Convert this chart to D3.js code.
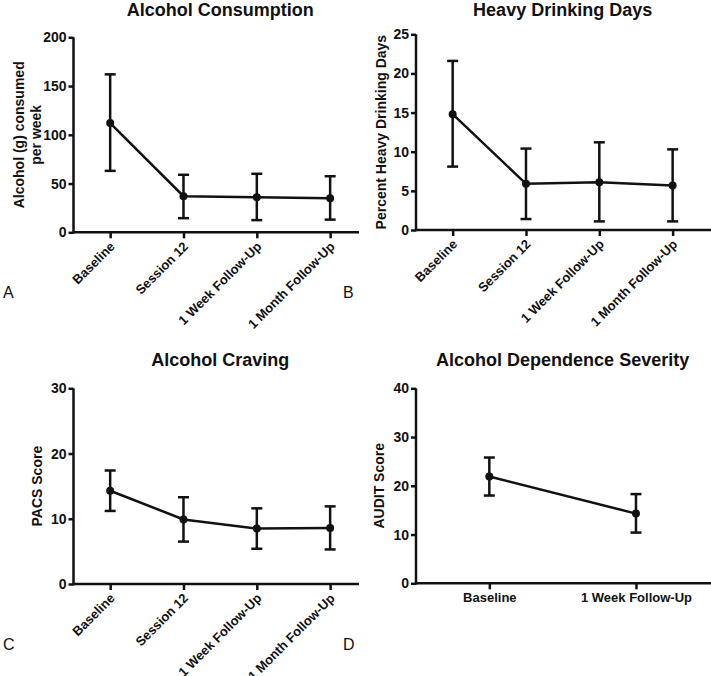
<!DOCTYPE html>
<html>
<head>
<meta charset="utf-8">
<script src="https://cdn.jsdelivr.net/npm/d3@7/dist/d3.min.js"></script>
<style>
  html, body { margin: 0; padding: 0; background: #fff; }
  svg { display: block; }
  text { font-family: "Liberation Sans", Arial, Helvetica, sans-serif; fill: #111; }
</style>
</head>
<body>
<svg id="chart" width="711" height="676"></svg>
<script>
// ---------------- data ----------------
const categoriesFull = ["Baseline", "Session 12", "1 Week Follow-Up", "1 Month Follow-Up"];
const categoriesAudit = ["Baseline", "1 Week Follow-Up"];

const alcoholMean = [112, 37, 36, 35];
const alcoholLow  = [63, 14.5, 12.5, 13];
const alcoholHigh = [162, 59, 60, 57.5];

const heavyMean = [14.8, 5.9, 6.1, 5.7];
const heavyLow  = [8.1, 1.4, 1.1, 1.1];
const heavyHigh = [21.6, 10.4, 11.2, 10.3];

const cravingMean = [14.3, 9.9, 8.5, 8.6];
const cravingLow  = [11.2, 6.5, 5.4, 5.3];
const cravingHigh = [17.4, 13.3, 11.6, 11.9];

const auditMean = [21.9, 14.3];
const auditLow  = [18.0, 10.4];
const auditHigh = [25.8, 18.3];

const alcoholTicks = [0, 50, 100, 150, 200];
const heavyTicks = [0, 5, 10, 15, 20, 25];
const cravingTicks = [0, 10, 20, 30];
const auditTicks = [0, 10, 20, 30, 40];

// ---------------- layout ----------------
const panels = [
  { letter: "A", title: "Alcohol Consumption", ylabel: ["Alcohol (g) consumed", "per week"],
    cats: categoriesFull, mean: alcoholMean, low: alcoholLow, high: alcoholHigh, ticks: alcoholTicks,
    ax: 73.5, axEnd: 359, y0: 232.3, yTop: 37.3, rotate: true,
    titleY: 16, ylabelX: [24, 41], letterX: 3, letterY: 298, letter2: null },
  { letter: "B", title: "Heavy Drinking Days", ylabel: ["Percent Heavy Drinking Days"],
    cats: categoriesFull, mean: heavyMean, low: heavyLow, high: heavyHigh, ticks: heavyTicks,
    ax: 416, axEnd: 711, y0: 230, yTop: 34.3, rotate: true,
    titleY: 16, ylabelX: [385.5], letterX: 343, letterY: 298 },
  { letter: "C", title: "Alcohol Craving", ylabel: ["PACS Score"],
    cats: categoriesFull, mean: cravingMean, low: cravingLow, high: cravingHigh, ticks: cravingTicks,
    ax: 73.5, axEnd: 359, y0: 584, yTop: 388.3, rotate: true,
    titleY: 366, ylabelX: [41.5], letterX: 3, letterY: 650 },
  { letter: "D", title: "Alcohol Dependence Severity", ylabel: ["AUDIT Score"],
    cats: categoriesAudit, mean: auditMean, low: auditLow, high: auditHigh, ticks: auditTicks,
    ax: 416, axEnd: 711, y0: 583.3, yTop: 388.3, rotate: false,
    titleY: 366, ylabelX: [384], letterX: 343, letterY: 650 }
];

const svg = d3.select("#chart");
const W = 293.3;
const SW = 2.5;
const ink = "#111";

panels.forEach(p => {
  const g = svg.append("g");
  const x = d3.scalePoint().domain(p.cats).range([p.ax, p.ax + W]).padding(0.5);
  const y = d3.scaleLinear().domain([p.ticks[0], p.ticks[p.ticks.length - 1]]).range([p.y0, p.yTop]);

  // y axis
  const yAxis = g.append("g").attr("transform", `translate(${p.ax},0)`)
    .call(d3.axisLeft(y).tickValues(p.ticks).tickSize(5).tickSizeOuter(0).tickPadding(2));
  yAxis.select(".domain").attr("d", `M0,${p.y0 + SW / 2}V${p.yTop}`);
  yAxis.selectAll("path, line").attr("stroke", ink).attr("stroke-width", SW);
  yAxis.selectAll("text").attr("font-size", 14).attr("font-weight", "bold")
    .attr("font-family", "'Liberation Sans', Arial, sans-serif").attr("fill", ink);

  // x axis
  const xAxis = g.append("g").attr("transform", `translate(0,${p.y0})`)
    .call(d3.axisBottom(x).tickSize(6).tickSizeOuter(0));
  xAxis.select(".domain").attr("d", `M${p.ax},0H${p.axEnd}`);
  xAxis.selectAll("path, line").attr("stroke", ink).attr("stroke-width", SW);
  const xt = xAxis.selectAll("text").attr("font-size", 13).attr("font-weight", "bold")
    .attr("font-family", "'Liberation Sans', Arial, sans-serif").attr("fill", ink);
  if (p.rotate) {
    xt.attr("text-anchor", "end").attr("dy", null).attr("y", null)
      .attr("transform", "translate(5,15) rotate(-45)");
  } else {
    xt.attr("dy", null).attr("y", 19);
  }

  // title
  g.append("text").attr("x", p.ax + W / 2).attr("y", p.titleY)
    .attr("text-anchor", "middle").attr("font-size", 18).attr("font-weight", "bold").text(p.title);

  // y label
  const yc = (p.y0 + p.yTop) / 2;
  p.ylabel.forEach((t, i) => {
    g.append("text").attr("transform", `translate(${p.ylabelX[i]},${yc}) rotate(-90)`)
      .attr("text-anchor", "middle").attr("font-size", 14).attr("font-weight", "bold").text(t);
  });

  // panel letter
  g.append("text").attr("x", p.letterX).attr("y", p.letterY)
    .attr("font-size", 16).attr("font-weight", "normal").text(p.letter);

  const pts = p.cats.map((c, i) => ({ c, m: p.mean[i], lo: p.low[i], hi: p.high[i] }));

  // error bars
  const eb = g.append("g").attr("stroke", ink).attr("stroke-width", SW).attr("fill", "none");
  pts.forEach(d => {
    eb.append("line").attr("x1", x(d.c)).attr("x2", x(d.c)).attr("y1", y(d.lo)).attr("y2", y(d.hi));
    eb.append("line").attr("x1", x(d.c) - 5.5).attr("x2", x(d.c) + 5.5).attr("y1", y(d.lo)).attr("y2", y(d.lo));
    eb.append("line").attr("x1", x(d.c) - 5.5).attr("x2", x(d.c) + 5.5).attr("y1", y(d.hi)).attr("y2", y(d.hi));
  });

  // connecting line
  g.append("path").datum(pts)
    .attr("d", d3.line().x(d => x(d.c)).y(d => y(d.m)))
    .attr("fill", "none").attr("stroke", ink).attr("stroke-width", SW);

  // markers
  g.selectAll("circle.pt").data(pts).join("circle").attr("class", "pt")
    .attr("cx", d => x(d.c)).attr("cy", d => y(d.m)).attr("r", 4).attr("fill", ink);
});
</script>
</body>
</html>
